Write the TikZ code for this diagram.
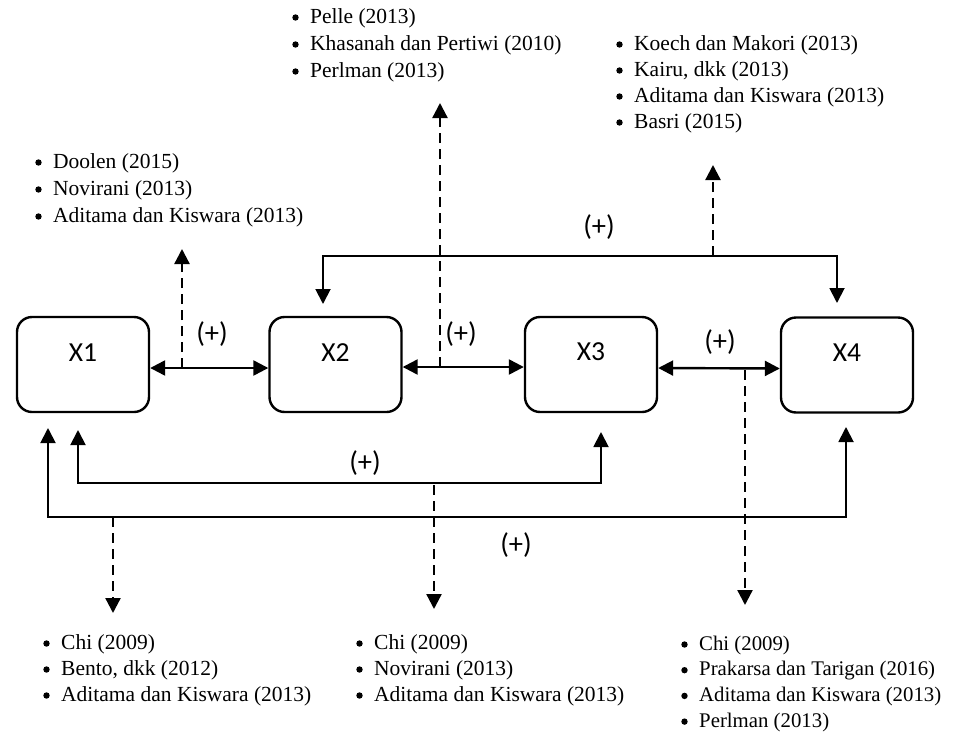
\documentclass[tikz,border=0pt]{standalone}
\usepackage{fontspec}
\setmainfont{Liberation Serif}
\newfontfamily\boxfont{Carlito}
\usetikzlibrary{arrows.meta}
\tikzset{
  >={Triangle[length=15pt,width=15pt]},
  varbox/.style={draw, line width=2.4pt, rounded corners=15pt, minimum width=132pt, minimum height=95pt, inner sep=0pt},
  boxlabel/.style={font=\boxfont\fontsize{27.5}{30}\selectfont, inner sep=0pt},
  plus/.style={font=\boxfont\fontsize{28.5}{30}\selectfont, inner sep=0pt},
  biarrow/.style={line width=2.4pt, <->},
  bracket/.style={line width=1.9pt, <->},
  dasharrow/.style={line width=2.3pt, dash pattern=on 10pt off 6pt, ->},
  listA/.style={font=\fontsize{21.5}{27}\selectfont, inner sep=0pt, anchor=base west},
  listB/.style={font=\fontsize{21.5}{26}\selectfont, inner sep=0pt, anchor=base west},
  listC/.style={font=\fontsize{20.8}{25.7}\selectfont, inner sep=0pt, anchor=base west}
}
\begin{document}
\begin{tikzpicture}[x=1pt,y=-1pt]
\useasboundingbox (0,0) rectangle (956,734);
% boxes
\node[varbox, label={[boxlabel,yshift=11.5pt]center:X1}] (X1) at (83,364.5) {};
\node[varbox, label={[boxlabel,yshift=11.5pt]center:X2}] (X2) at (335.5,364.5) {};
\node[varbox, label={[boxlabel,yshift=12.5pt]center:X3}] (X3) at (591,364.5) {};
\node[varbox, label={[boxlabel,yshift=12pt]center:X4}] (X4) at (847,365) {};
% horizontal double arrows
\draw[biarrow] ([yshift=-3.5pt]X1.east) -- ([yshift=-3.5pt]X2.west);
\draw[biarrow] ([yshift=-2.5pt]X2.east) -- ([yshift=-2.5pt]X3.west);
\draw[biarrow] ([yshift=-3.5pt]X3.east) -- ([yshift=-3.5pt]X4.west);
% coordinates
\coordinate (c12) at (182,368);  \coordinate (t12) at (182,249);
\coordinate (c23) at (440,367);  \coordinate (t23) at (440,103);
\coordinate (c34) at (745,370);  \coordinate (t34) at (745,605);
\coordinate (tbL) at (323,256);  \coordinate (tbR) at (837,256);
\coordinate (tbE2) at (323,304); \coordinate (tbE4) at (837,303);
\coordinate (ctb) at (713,256);  \coordinate (ttb) at (713,165);
\coordinate (ibL) at (78,483);   \coordinate (ibR) at (601,483);
\coordinate (ibE1) at (78,430);  \coordinate (ibE3) at (601,432);
\coordinate (obL) at (48,517);   \coordinate (obR) at (846,517);
\coordinate (obE1) at (48,428);  \coordinate (obE4) at (846,427);
\coordinate (cib) at (434,485);  \coordinate (tib) at (434,609);
\coordinate (cob) at (113,517);  \coordinate (tob) at (113,613);
% brackets
\draw[bracket] (tbE2) -- (tbL) -- (tbR) -- (tbE4);
\draw[bracket] (ibE1) -- (ibL) -- (ibR) -- (ibE3);
\draw[bracket] (obE1) -- (obL) -- (obR) -- (obE4);
% dashed arrows
\draw[dasharrow] (c12) -- (t12);
\draw[dasharrow] (c23) -- (t23);
\draw[dasharrow] (c34) -- (t34);
\draw[dasharrow] (ctb) -- (ttb);
\draw[dasharrow] (cib) -- (tib);
\draw[dasharrow] (cob) -- (tob);
% (+) labels
\node[plus] (p12) at (212,334) {(+)};
\node[plus] (p23) at (461,334) {(+)};
\node[plus] (p34) at (720,342) {(+)};
\node[plus] (ptb) at (599,227) {(+)};
\node[plus] (pib) at (365,463) {(+)};
\node[plus] (pob) at (516,545) {(+)};
% lists
\node[listA] (L1) at (53,168) {\begin{tabular}[t]{@{}l@{}}Doolen (2015)\\Novirani (2013)\\Aditama dan Kiswara (2013)\end{tabular}};
\node[listA] (L2) at (310,23) {\begin{tabular}[t]{@{}l@{}}Pelle (2013)\\Khasanah dan Pertiwi (2010)\\Perlman (2013)\end{tabular}};
\node[listB] (L3) at (634,50) {\begin{tabular}[t]{@{}l@{}}Koech dan Makori (2013)\\Kairu, dkk (2013)\\Aditama dan Kiswara (2013)\\Basri (2015)\end{tabular}};
\node[listB] (L4) at (61,649) {\begin{tabular}[t]{@{}l@{}}Chi (2009)\\Bento, dkk (2012)\\Aditama dan Kiswara (2013)\end{tabular}};
\node[listB] (L5) at (374,649) {\begin{tabular}[t]{@{}l@{}}Chi (2009)\\Novirani (2013)\\Aditama dan Kiswara (2013)\end{tabular}};
\node[listC] (L6) at (699,650) {\begin{tabular}[t]{@{}l@{}}Chi (2009)\\Prakarsa dan Tarigan (2016)\\Aditama dan Kiswara (2013)\\Perlman (2013)\end{tabular}};
% bullets
\foreach \k in {0,1,2} \fill (38.5,{162.5+27*\k}) circle (3.2pt);
\foreach \k in {0,1,2} \fill (295.5,{17.5+27*\k}) circle (3.2pt);
\foreach \k in {0,1,2,3} \fill (619.5,{44.5+26*\k}) circle (3.2pt);
\foreach \k in {0,1,2} \fill (46.5,{643.5+26*\k}) circle (3.2pt);
\foreach \k in {0,1,2} \fill (359.5,{643.5+26*\k}) circle (3.2pt);
\foreach \k in {0,1,2,3} \fill (684.5,{644.5+25.7*\k}) circle (3.2pt);
\end{tikzpicture}
\end{document}
